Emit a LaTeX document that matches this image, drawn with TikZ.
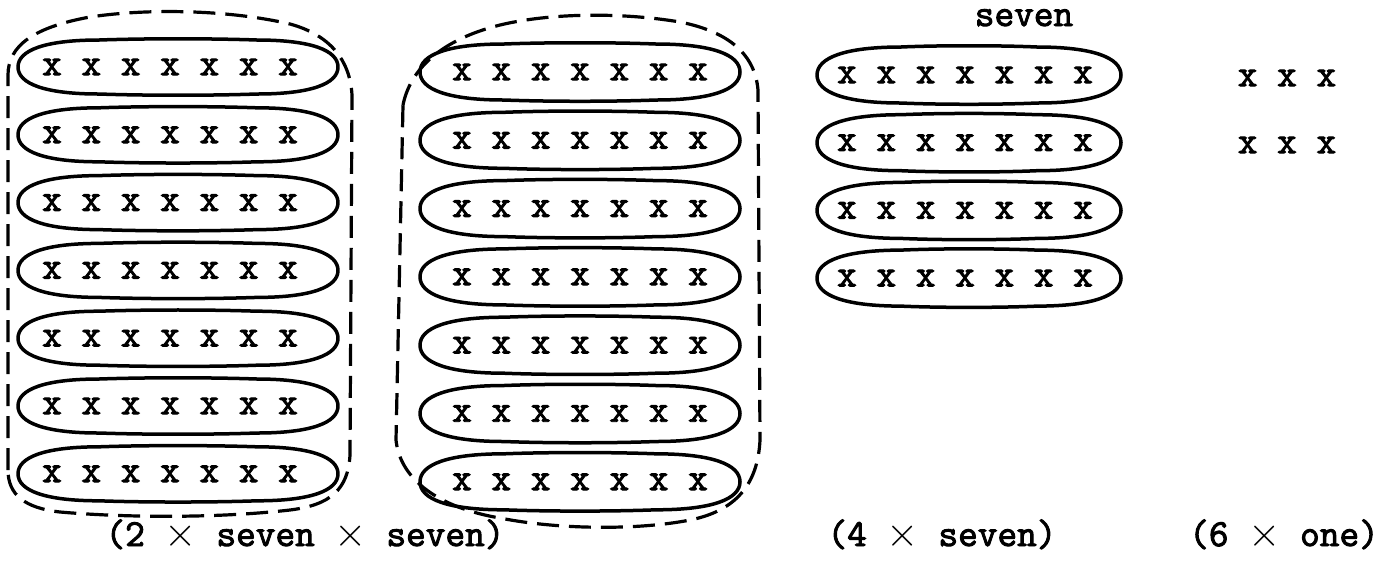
\documentclass[tikz,border=0pt]{standalone}
\usepackage{fontspec}
\setmonofont[FakeBold=2.5]{Latin Modern Mono}
\newcommand\tms{\ensuremath{\times}}
\tikzset{
  xrow/.style={font=\fontsize{19.1}{22}\selectfont\ttfamily, inner sep=0pt},
  lbl/.style={font=\fontsize{19.1}{22}\selectfont\ttfamily, inner sep=0pt, anchor=base},
  blob/.style={line width=1.75pt, line join=round},
  grp/.style={line width=1.6pt, dash pattern=on 11pt off 5pt}
}
\newcommand\myblob[4]{%
  \draw[blob,shift={(#1.center)},xshift=#2*0.5pt]
    (-#3,0) .. controls (-#3,-0.62*#4) and ({-#3+1.0*#4},-#4) .. ({-#3+3*#4},-#4)
    .. controls (-0.2*#3,-1.06*#4) and (0.2*#3,-1.06*#4) .. ({#3-3*#4},-#4)
    .. controls ({#3-1.0*#4},-#4) and (#3,-0.62*#4) .. (#3,0)
    .. controls (#3,0.62*#4) and ({#3-1.0*#4},#4) .. ({#3-3*#4},#4)
    .. controls (0.2*#3,1.06*#4) and (-0.2*#3,1.06*#4) .. ({-#3+3*#4},#4)
    .. controls ({-#3+1.0*#4},#4) and (-#3,0.62*#4) .. cycle;}
\begin{document}
\begin{tikzpicture}[x=0.5pt,y=-0.5pt]
\useasboundingbox (0,0) rectangle (1381,570);
\clip (0,0) rectangle (1381,570);
% left group
\foreach \i in {1,...,7} {
  \node[xrow] (L\i) at (170,{67+67.8*(\i-1)}) {x x x x x x x};
  \myblob{L\i}{8}{160}{27}
}
% middle group
\foreach \i in {1,...,7} {
  \node[xrow] (M\i) at (580,{72+68.3*(\i-1)}) {x x x x x x x};
  \myblob{M\i}{0}{160}{28}
}
% right group
\foreach \i in {1,...,4} {
  \node[xrow] (R\i) at (965,{75+67.7*(\i-1)}) {x x x x x x x};
  \myblob{R\i}{4}{152}{28}
}
\node[xrow] (F1) at (1287,78) {x x x};
\node[xrow] (F2) at (1287,145) {x x x};
% dashed groupings
\draw[grp] (8,470) -- (8,75) .. controls (8,45) and (35,27) .. (90,17)
  .. controls (150,8) and (230,10) .. (290,24)
  .. controls (330,35) and (350,60) .. (352,95) -- (350,455)
  .. controls (348,490) and (330,505) .. (290,510)
  .. controls (220,518) and (130,518) .. (60,512)
  .. controls (25,508) and (8,495) .. cycle;
\draw[grp] (403,105) .. controls (410,70) and (440,40) .. (500,25)
  .. controls (550,13) and (620,12) .. (680,22)
  .. controls (730,32) and (755,55) .. (758,90) -- (760,440)
  .. controls (758,480) and (740,510) .. (690,520)
  .. controls (640,530) and (560,530) .. (500,518)
  .. controls (440,508) and (400,480) .. (396,440) -- cycle;
% labels
\node[lbl] (lab1) at (305,546) {(2 \tms{} seven \tms{} seven)};
\node[lbl] (lab2) at (942,546) {(4 \tms{} seven)};
\node[lbl] (lab3) at (1284,546) {(6 \tms{} one)};
\node[lbl] (topl) at (1024,26) {seven};
\end{tikzpicture}
\end{document}
